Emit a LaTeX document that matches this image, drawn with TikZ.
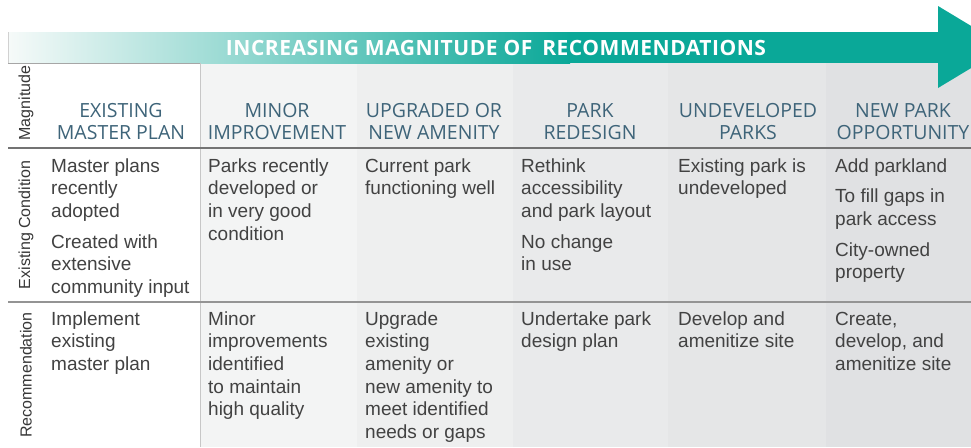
\documentclass[tikz,border=0pt]{standalone}
\usepackage{fontspec}
\setmainfont{Liberation Sans}
\newfontfamily\hdrfont{Open Sans}
\newfontfamily\titlefont[LetterSpace=2.5]{Open Sans}
\definecolor{tealc}{RGB}{10,168,152}
\definecolor{bandstart}{RGB}{246,250,249}
\definecolor{hdrc}{RGB}{62,100,121}
\definecolor{bodyc}{RGB}{66,66,66}
\definecolor{colB}{RGB}{243,244,244}
\definecolor{colC}{RGB}{238,239,239}
\definecolor{colD}{RGB}{233,234,235}
\definecolor{colE}{RGB}{229,230,231}
\definecolor{colF}{RGB}{224,225,227}
\tikzset{
  bodytxt/.style={anchor=base west, inner sep=0pt, text=bodyc, font=\fontsize{19}{22.7}\selectfont},
  hdrtxt/.style={anchor=base, inner sep=0pt, text=hdrc, font=\hdrfont\fontsize{19.5}{22}\selectfont},
  sidetxt/.style={rotate=90, inner sep=0pt, text=bodyc!85!black, font=\fontsize{16}{18}\selectfont},
  rule/.style={line width=1.3pt}
}
\newcommand\bodycell[4]{\node[bodytxt] (#1) at (#2,#3) {\parbox[t]{152pt}{\raggedright #4}};}
\newcommand\hdrcell[4]{\node[hdrtxt] (#1) at (#2,#3) {\parbox[t]{170pt}{\centering #4}};}
\begin{document}
\begin{tikzpicture}[x=1pt,y=-1pt]
\useasboundingbox (0,0) rectangle (971,447);
\clip (0,0) rectangle (971,447);
\fill[white] (0,0) rectangle (971,447);
% column backgrounds
\fill[colB] (200,63) rectangle (357,447);
\fill[colC] (357,63) rectangle (513,447);
\fill[colD] (513,63) rectangle (668,447);
\fill[colE] (668,63) rectangle (826,447);
\fill[colF] (826,63) rectangle (971,447);
% arrow
\shade[left color=bandstart, right color=tealc] (8,32) rectangle (570,63);
\fill[tealc] (569,32) rectangle (939,63);
\fill[tealc] (938,6) -- (1006,47) -- (938,88) -- cycle;
\draw[black!18, line width=0.8pt] (8,32) -- (8,63);
\draw[black!35, line width=1pt] (8,63) -- (200,63);
% rules
\draw[black!22, line width=1pt] (200,63) -- (200,447);
\draw[rule, black!55] (8,148) -- (971,148);
\draw[rule, black!42] (8,302) -- (971,302);
% title
\node[anchor=base, inner sep=0pt, text=white, font=\titlefont\bfseries\fontsize{21}{24}\selectfont] (title) at (496,55.5) {INCREASING MAGNITUDE OF\hspace{4pt} RECOMMENDATIONS};
% side labels
\node[sidetxt] (smag) at (26,103) {Magnitude};
\node[sidetxt] (scond) at (26,225) {Existing Condition};
\node[sidetxt] (srec) at (26,375) {Recommendation};
% headers
\hdrcell{h1}{121}{117}{EXISTING\\MASTER PLAN}
\hdrcell{h2}{277}{117}{MINOR\\IMPROVEMENT}
\hdrcell{h3}{434}{117}{UPGRADED OR\\NEW AMENITY}
\hdrcell{h4}{590}{117}{PARK\\REDESIGN}
\hdrcell{h5}{748}{117}{UNDEVELOPED\\PARKS}
\hdrcell{h6}{903}{117}{NEW PARK\\OPPORTUNITY}
% existing condition row
\bodycell{c1}{51}{172}{Master plans\\recently\\adopted\\[8pt]Created with\\extensive\\community input}
\bodycell{c2}{208}{172}{Parks recently\\developed or\\in very good\\condition}
\bodycell{c3}{365}{172}{Current park\\functioning well}
\bodycell{c4}{521}{172}{Rethink\\accessibility\\and park layout\\[8pt]No change\\in use}
\bodycell{c5}{678}{172}{Existing park is\\undeveloped}
\bodycell{c6}{835}{172}{Add parkland\\[8pt]To fill gaps in\\park access\\[8pt]City-owned\\property}
% recommendation row
\bodycell{r1}{51}{325}{Implement\\existing\\master plan}
\bodycell{r2}{208}{325}{Minor\\improvements\\identified\\to maintain\\high quality}
\bodycell{r3}{365}{325}{Upgrade\\existing\\amenity or\\new amenity to\\meet identified\\needs or gaps}
\bodycell{r4}{521}{325}{Undertake park\\design plan}
\bodycell{r5}{678}{325}{Develop and\\amenitize site}
\bodycell{r6}{835}{325}{Create,\\develop, and\\amenitize site}
\end{tikzpicture}
\end{document}
